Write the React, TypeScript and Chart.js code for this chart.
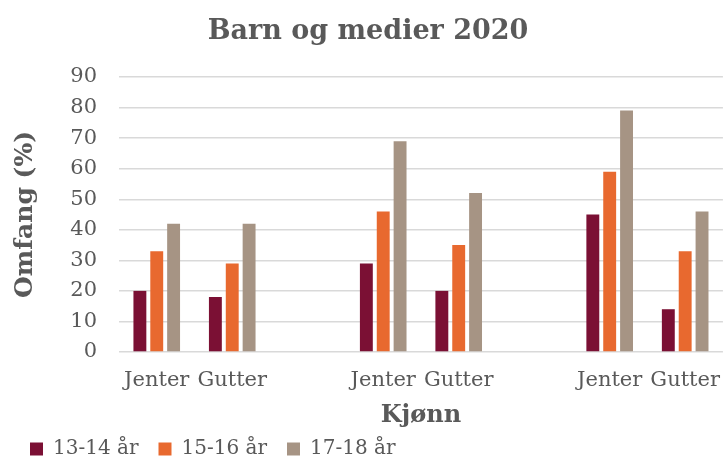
import { useEffect, useRef } from "react";
import { Chart, registerables } from "chart.js";

Chart.register(...registerables);

const titleText = "Barn og medier 2020";
const yAxisTitle = "Omfang (%)";
const xAxisTitle = "Kjønn";
const categories = ["Jenter", "Gutter", "", "Jenter", "Gutter", "", "Jenter", "Gutter"];
const seriesNames = ["13-14 år", "15-16 år", "17-18 år"];
const age13to14 = [20, 18, null, 29, 20, null, 45, 14];
const age15to16 = [33, 29, null, 46, 35, null, 59, 33];
const age17to18 = [42, 42, null, 69, 52, null, 79, 46];
const yMin = 0;
const yMax = 90;
const yStep = 10;

const colors = ["#7B1034", "#E8692F", "#A69484"];
const textColor = "#595959";
const fontFamily = "'DejaVu Serif', serif";

const legendShift = {
  id: "legendShift",
  afterLayout(chart: any) {
    const lg = chart.legend;
    if (lg) {
      lg.left += 2;
      lg.right += 2;
      lg.top -= 12;
    }
  },
};

export default function App() {
  const ref = useRef<HTMLCanvasElement | null>(null);
  useEffect(() => {
    document.body.style.margin = "0";
    const canvas = ref.current;
    if (!canvas) return;
    const chart = new Chart(canvas, {
      type: "bar",
      data: {
        labels: categories,
        datasets: [age13to14, age15to16, age17to18].map((d, i) => ({
          label: seriesNames[i],
          data: d,
          backgroundColor: colors[i],
          borderWidth: 0,
          categoryPercentage: 0.67,
          barPercentage: 0.765,
        })),
      },
      options: {
        responsive: false,
        animation: false,
        layout: { padding: { left: 8, right: 0, top: 0, bottom: 0 } },
        plugins: {
          title: {
            display: true,
            text: titleText,
            color: textColor,
            font: { family: fontFamily, size: 27, weight: "bold" },
            padding: { top: 16, bottom: 28.6 },
          },
          legend: {
            position: "bottom",
            align: "start",
            maxHeight: 26,
            labels: {
              color: textColor,
              font: { family: fontFamily, size: 20 },
              boxWidth: 13,
              boxHeight: 13,
              padding: 20,
            },
          },
          tooltip: { enabled: false },
        },
        scales: {
          x: {
            grid: { display: false },
            border: { display: false },
            ticks: {
              color: textColor,
              font: { family: fontFamily, size: 21 },
              padding: 8,
              maxRotation: 0,
              autoSkip: false,
            },
            title: {
              display: true,
              text: xAxisTitle,
              color: textColor,
              font: { family: fontFamily, size: 24, weight: "bold" },
              padding: { top: 0, bottom: 1 },
            },
          },
          y: {
            min: yMin,
            max: yMax,
            afterFit: (scale: any) => {
              scale.width = 111;
            },
            grid: { color: "#d9d9d9", lineWidth: 1.4, drawTicks: false },
            border: { display: false },
            ticks: {
              stepSize: yStep,
              color: textColor,
              font: { family: fontFamily, size: 21 },
              padding: 22,
            },
            title: {
              display: true,
              text: yAxisTitle,
              color: textColor,
              font: { family: fontFamily, size: 25, weight: "bold" },
              padding: { top: 2, bottom: 2 },
            },
          },
        },
      },
      plugins: [legendShift],
    });
    return () => chart.destroy();
  }, []);
  return <canvas ref={ref} width={728} height={457} style={{ display: "block" }} />;
}
